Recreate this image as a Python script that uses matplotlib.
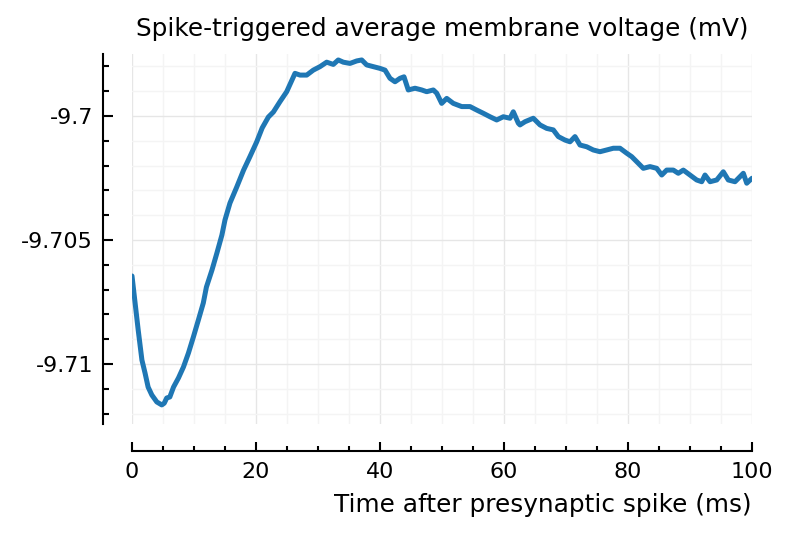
import matplotlib
matplotlib.use("Agg")
import matplotlib.pyplot as plt
from matplotlib.ticker import MultipleLocator, FixedLocator, FixedFormatter

plt.rcParams['font.family'] = ['DejaVu Sans']
plt.rcParams['axes.unicode_minus'] = False

# Time after presynaptic spike (ms)
time_ms = [0.0, 0.5, 1.0, 1.6, 2.1, 2.6, 3.2, 4.0, 4.8, 5.2, 5.6, 6.1, 6.7, 7.5, 8.3,
           9.1, 9.9, 10.7, 11.5, 12.0, 12.9, 13.7, 14.5, 15.0, 15.8, 16.9, 18.0, 19.0,
           20.1, 21.0, 22.0, 22.8,
           23.87, 24.95, 26.29, 27.10, 28.18, 29.24, 30.32, 31.40, 32.47, 33.27, 34.08,
           35.16, 36.24, 37.05, 37.85, 38.92, 40.00, 40.81, 41.61, 42.42, 43.23, 43.87,
           44.56, 45.65, 46.73, 47.53, 48.60, 49.15, 49.95, 50.76, 51.82, 53.18, 54.52,
           55.60, 56.66, 57.74, 58.82, 59.89, 60.97, 61.50, 62.31,
           62.58, 63.39, 64.73, 65.81, 66.89, 67.95, 68.76, 69.84, 70.65, 71.45, 72.26,
           73.34, 74.40, 75.48, 76.56, 77.63, 78.71, 79.79, 80.60, 81.40, 82.47, 83.55,
           84.63, 85.44, 86.24, 87.31, 88.11, 88.92, 90.00, 91.08, 91.89, 92.42, 93.23,
           94.31, 95.37, 96.18, 97.26, 98.60, 99.15, 100.0]

# Spike-triggered average membrane voltage (mV)
voltage_mv = [-9.70645, -9.70754, -9.70863, -9.70984, -9.71036, -9.71093, -9.71125,
              -9.71153, -9.71165, -9.71158, -9.71137, -9.71133, -9.71093, -9.71056,
              -9.71012, -9.70956, -9.70891, -9.70823, -9.70754, -9.70690, -9.70621,
              -9.70552, -9.70480, -9.70419, -9.70351, -9.70286, -9.70218, -9.70165,
              -9.70105, -9.70048, -9.70004, -9.69984,
              -9.69942, -9.69902, -9.69828, -9.69835, -9.69835, -9.69815, -9.69801,
              -9.69783, -9.69792, -9.69774, -9.69783, -9.69788, -9.69778, -9.69774,
              -9.69794, -9.69801, -9.69808, -9.69815, -9.69848, -9.69862, -9.69848,
              -9.69842, -9.69895, -9.69888, -9.69895, -9.69902, -9.69895, -9.69908,
              -9.69949, -9.69929, -9.69949, -9.69962, -9.69962, -9.69976, -9.69989,
              -9.70003, -9.70016, -9.70003, -9.70009, -9.69983, -9.70029,
              -9.70036, -9.70023, -9.70009, -9.70036, -9.70050, -9.70056, -9.70083,
              -9.70097, -9.70104, -9.70083, -9.70117, -9.70124, -9.70137, -9.70144,
              -9.70137, -9.70130, -9.70130, -9.70150, -9.70164, -9.70184, -9.70211,
              -9.70204, -9.70211, -9.70238, -9.70218, -9.70218, -9.70231, -9.70218,
              -9.70238, -9.70258, -9.70265, -9.70238, -9.70265, -9.70258, -9.70225,
              -9.70258, -9.70265, -9.70231, -9.70271, -9.70251]

y_ticks = [-9.71, -9.705, -9.7]
y_tick_labels = ["-9.71", "-9.705", "-9.7"]
x_ticks = [0, 20, 40, 60, 80, 100]
x_tick_labels = ["0", "20", "40", "60", "80", "100"]

title = "Spike-triggered average membrane voltage (mV)"
xlabel = "Time after presynaptic spike (ms)"

W, H = 794, 540
fig = plt.figure(figsize=(W / 100, H / 100), dpi=100)
ax = fig.add_axes([132 / W, 1 - 424 / H, 620 / W, 370 / H])

ax.plot(time_ms, voltage_mv, color="#1f77b4", lw=3.6, solid_joinstyle="round",
        solid_capstyle="round", zorder=3)

ax.set_xlim(0, 100)
ax.set_ylim(-9.712419, -9.6975)

ax.xaxis.set_major_locator(FixedLocator(x_ticks))
ax.xaxis.set_major_formatter(FixedFormatter(x_tick_labels))
ax.xaxis.set_minor_locator(MultipleLocator(5))
ax.yaxis.set_major_locator(FixedLocator(y_ticks))
ax.yaxis.set_major_formatter(FixedFormatter(y_tick_labels))
ax.yaxis.set_minor_locator(MultipleLocator(0.001))

ax.grid(which="major", color="#e6e6e6", lw=1.0)
ax.grid(which="minor", color="#f4f4f4", lw=1.0)
ax.set_axisbelow(True)

for s in ["top", "right"]:
    ax.spines[s].set_visible(False)
ax.spines["left"].set_position(("outward", 21))
ax.spines["bottom"].set_position(("outward", 19.5))
for s in ["left", "bottom"]:
    ax.spines[s].set_linewidth(1.5)

ax.tick_params(axis="y", which="major", direction="in", length=7.5, width=1.5,
               labelsize=16, pad=7)
ax.tick_params(axis="y", which="minor", direction="in", length=4.5, width=1.5)
ax.tick_params(axis="x", which="major", direction="in", length=6.5, width=1.5,
               labelsize=16, pad=8)
ax.tick_params(axis="x", which="minor", direction="in", length=3.5, width=1.5)

ax.set_title(title, fontsize=17.8, pad=13)
ax.set_xlabel(xlabel, fontsize=17.8, loc="right", labelpad=8)

fig.savefig("out.png", dpi=100)
